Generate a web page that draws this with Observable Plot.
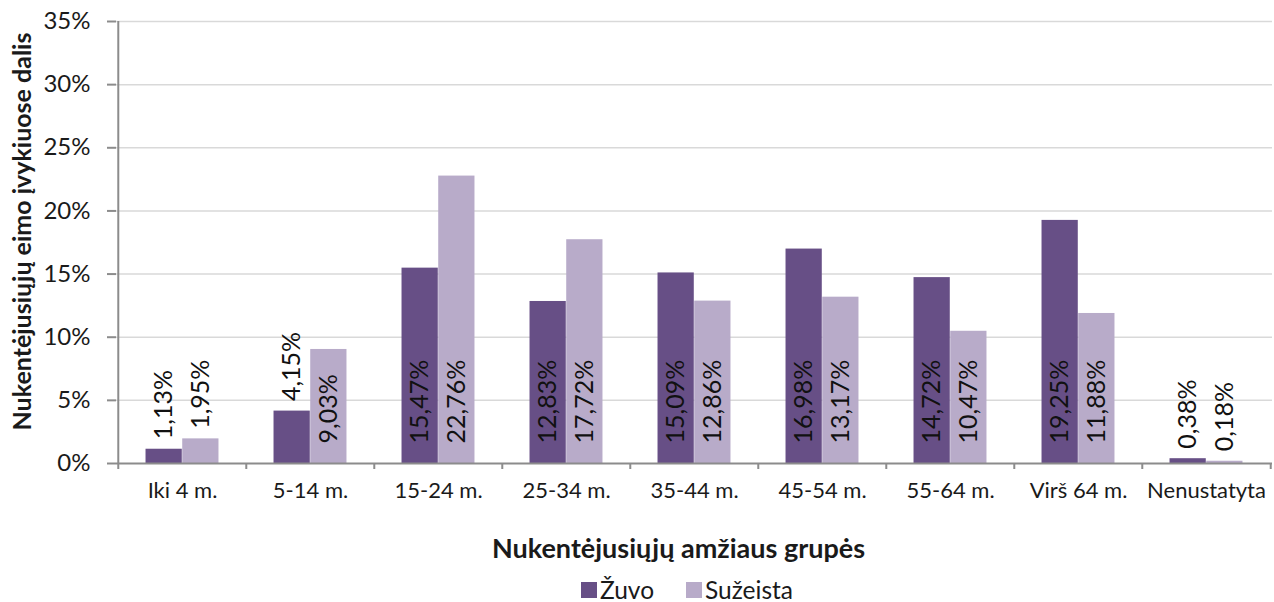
<!DOCTYPE html>
<html>
<head>
<meta charset="utf-8">
<script src="https://cdn.jsdelivr.net/npm/d3@7"></script>
<script src="https://cdn.jsdelivr.net/npm/@observablehq/plot@0.6"></script>
<style>
  html, body { margin: 0; padding: 0; background: #fff; }
  body { width: 1274px; height: 602px; position: relative; overflow: hidden; font-family: Lato, "Noto Sans", sans-serif; }
  #legend { position: absolute; left: 581px; top: 575px; display: flex; align-items: center; font-size: 24.5px; color: #1a1a1a; line-height: 30px; }
  #legend .item { display: flex; align-items: center; margin-right: 32px; }
  #legend .sw { width: 16px; height: 16px; margin-right: 3px; }
</style>
</head>
<body>
<div id="chart"></div>
<div id="legend"></div>
<script>
const categories = ["Iki 4 m.", "5-14 m.", "15-24 m.", "25-34 m.", "35-44 m.", "45-54 m.", "55-64 m.", "Virš 64 m.", "Nenustatyta"];
const seriesNames = ["Žuvo", "Sužeista"];
const zuvo = [1.13, 4.15, 15.47, 12.83, 15.09, 16.98, 14.72, 19.25, 0.38];
const suzeista = [1.95, 9.03, 22.76, 17.72, 12.86, 13.17, 10.47, 11.88, 0.18];
const yTicks = [0, 5, 10, 15, 20, 25, 30, 35];
const colors = ["#674f86", "#b8abc9"];
const xTitle = "Nukentėjusiųjų amžiaus grupės";
const yTitle = "Nukentėjusiųjų eimo įvykiuose dalis";

const rows = [];
categories.forEach((c, i) => {
  rows.push({cat: c, series: seriesNames[0], value: zuvo[i]});
  rows.push({cat: c, series: seriesNames[1], value: suzeista[i]});
});
const fmt = v => v.toFixed(2).replace(".", ",") + "%";

const W = 1274, H = 565, mL = 116, mR = 2, mT = 21, mB = 102;
const band = (W - mL - mR) / categories.length;
const half = band / 2;
const barW = 36.7;
const font = "Lato, 'Noto Sans', sans-serif";

const inside = d => d.value >= 7;
const labelOpts = {rotate: -90, textAnchor: "start", fontSize: 25, fill: "#111"};

const chart = Plot.plot({
  width: W, height: H,
  marginLeft: mL, marginRight: mR, marginTop: mT, marginBottom: mB,
  style: {fontFamily: font, color: "#1a1a1a", background: "#fff"},
  x: {domain: categories, padding: 0, axis: null, label: null},
  y: {domain: [0, 35], axis: null, label: null},
  marks: [
    Plot.gridY(yTicks.slice(1), {stroke: "#d9d9d9", strokeOpacity: 1, strokeWidth: 1.5}),
    Plot.barY(rows.filter(d => d.series === seriesNames[0]), {x: "cat", y: "value", fill: colors[0], insetLeft: half - barW, insetRight: half}),
    Plot.barY(rows.filter(d => d.series === seriesNames[1]), {x: "cat", y: "value", fill: colors[1], insetLeft: half, insetRight: half - barW}),
    Plot.ruleY([0], {stroke: "#8c8c8c", strokeWidth: 2}),
    Plot.ruleX([categories[0]], {x: d => d, dx: -half, stroke: "#8c8c8c", strokeWidth: 2}),
    Plot.axisY({ticks: yTicks, tickSize: 9, tickPadding: 17, tickFormat: d => d + "%", fontSize: 24, stroke: "#8c8c8c", strokeWidth: 2, fill: "#1a1a1a", label: null}),
    Plot.axisX(categories, {tickSize: 6, text: null, dx: -half, stroke: "#8c8c8c", strokeWidth: 2, label: null}),
    Plot.axisX([categories[categories.length - 1]], {tickSize: 6, text: null, dx: half, stroke: "#8c8c8c", strokeWidth: 2, label: null}),
    Plot.axisX(categories, {tickSize: 0, tickPadding: 19, fontSize: 22, fill: "#1a1a1a", label: null}),
    // value labels inside bars (base)
    Plot.text(rows.filter(d => d.series === seriesNames[0] && inside(d)), {x: "cat", y: 0, text: d => fmt(d.value), dx: -barW / 2, dy: -20, ...labelOpts}),
    Plot.text(rows.filter(d => d.series === seriesNames[1] && inside(d)), {x: "cat", y: 0, text: d => fmt(d.value), dx: barW / 2, dy: -20, ...labelOpts}),
    // value labels outside end
    Plot.text(rows.filter(d => d.series === seriesNames[0] && !inside(d)), {x: "cat", y: "value", text: d => fmt(d.value), dx: -barW / 2, dy: -10, ...labelOpts}),
    Plot.text(rows.filter(d => d.series === seriesNames[1] && !inside(d)), {x: "cat", y: "value", text: d => fmt(d.value), dx: barW / 2, dy: -10, ...labelOpts}),
    // axis titles
    Plot.text([xTitle], {frameAnchor: "bottom", text: d => d, textAnchor: "middle", lineAnchor: "middle", dy: 86, dx: -16, fontSize: 27, fontWeight: "bold", fill: "#1a1a1a"}),
    Plot.text([yTitle], {frameAnchor: "left", text: d => d, textAnchor: "middle", lineAnchor: "middle", rotate: -90, dx: -94, dy: -11, fontSize: 25, fontWeight: "bold", fill: "#1a1a1a"})
  ]
});
document.getElementById("chart").appendChild(chart);

const legend = document.getElementById("legend");
seriesNames.forEach((s, i) => {
  const item = document.createElement("div");
  item.className = "item";
  const sw = document.createElement("div");
  sw.className = "sw";
  sw.style.background = colors[i];
  const lab = document.createElement("span");
  lab.textContent = s;
  item.appendChild(sw);
  item.appendChild(lab);
  legend.appendChild(item);
});
</script>
</body>
</html>
